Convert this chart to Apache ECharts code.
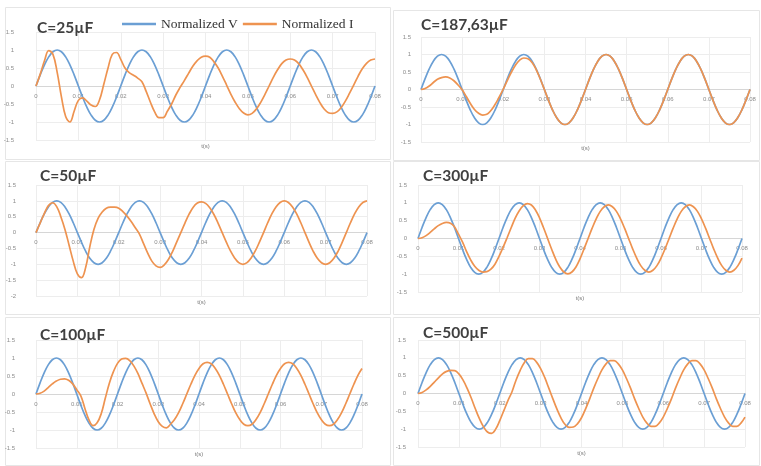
<!DOCTYPE html>
<html>
<head>
<meta charset="utf-8">
<script src="https://cdn.jsdelivr.net/npm/echarts@6/dist/echarts.min.js"></script>
<style>
  html, body { margin: 0; padding: 0; background: #ffffff; }
  #chart { width: 761px; height: 466px; }
</style>
</head>
<body>
<div id="chart"></div>
<script>
// Sample instants, seconds (1 ms step over four 50 Hz periods)
const times = [
  0, 0.001, 0.002, 0.003, 0.004, 0.005, 0.006, 0.007, 0.008, 0.009,
  0.010, 0.011, 0.012, 0.013, 0.014, 0.015, 0.016, 0.017, 0.018, 0.019,
  0.020, 0.021, 0.022, 0.023, 0.024, 0.025, 0.026, 0.027, 0.028, 0.029,
  0.030, 0.031, 0.032, 0.033, 0.034, 0.035, 0.036, 0.037, 0.038, 0.039,
  0.040, 0.041, 0.042, 0.043, 0.044, 0.045, 0.046, 0.047, 0.048, 0.049,
  0.050, 0.051, 0.052, 0.053, 0.054, 0.055, 0.056, 0.057, 0.058, 0.059,
  0.060, 0.061, 0.062, 0.063, 0.064, 0.065, 0.066, 0.067, 0.068, 0.069,
  0.070, 0.071, 0.072, 0.073, 0.074, 0.075, 0.076, 0.077, 0.078, 0.079,
  0.080
];

// Normalized supply voltage (same in every case)
const voltage = [
  0, 0.309, 0.588, 0.809, 0.951, 1, 0.951, 0.809, 0.588, 0.309,
  0, -0.309, -0.588, -0.809, -0.951, -1, -0.951, -0.809, -0.588, -0.309,
  0, 0.309, 0.588, 0.809, 0.951, 1, 0.951, 0.809, 0.588, 0.309,
  0, -0.309, -0.588, -0.809, -0.951, -1, -0.951, -0.809, -0.588, -0.309,
  0, 0.309, 0.588, 0.809, 0.951, 1, 0.951, 0.809, 0.588, 0.309,
  0, -0.309, -0.588, -0.809, -0.951, -1, -0.951, -0.809, -0.588, -0.309,
  0, 0.309, 0.588, 0.809, 0.951, 1, 0.951, 0.809, 0.588, 0.309,
  0, -0.309, -0.588, -0.809, -0.951, -1, -0.951, -0.809, -0.588, -0.309,
  0
];

// Normalized current for each capacitance
const current25 = [
  0, 0.33, 0.7, 0.98, 0.88, 0.38, -0.3, -0.85, -1.0, -0.7,
  -0.4, -0.33, -0.42, -0.53, -0.57, -0.38, 0.05, 0.5, 0.88, 0.93,
  0.74, 0.5, 0.37, 0.3, 0.22, 0.12, -0.15, -0.45, -0.72, -0.88,
  -0.88, -0.7, -0.5, -0.25, -0.04, 0.15, 0.35, 0.55, 0.7, 0.8,
  0.83, 0.8, 0.67, 0.5, 0.27, 0.02, -0.23, -0.45, -0.63, -0.75,
  -0.8, -0.76, -0.64, -0.46, -0.24, 0.0, 0.24, 0.45, 0.62, 0.72,
  0.75, 0.72, 0.62, 0.45, 0.24, 0.0, -0.24, -0.46, -0.64, -0.74,
  -0.76, -0.72, -0.6, -0.42, -0.2, 0.03, 0.27, 0.48, 0.63, 0.72,
  0.75
];
const current187 = [
  0, 0.03, 0.1, 0.2, 0.29, 0.34, 0.36, 0.33, 0.25, 0.13,
  -0.01, -0.2, -0.4, -0.57, -0.68, -0.73, -0.71, -0.6, -0.43, -0.22,
  0.01, 0.26, 0.5, 0.7, 0.84, 0.9, 0.88, 0.77, 0.57, 0.3,
  0, -0.309, -0.588, -0.809, -0.951, -1, -0.951, -0.809, -0.588, -0.309,
  0, 0.309, 0.588, 0.809, 0.951, 1, 0.951, 0.809, 0.588, 0.309,
  0, -0.309, -0.588, -0.809, -0.951, -1, -0.951, -0.809, -0.588, -0.309,
  0, 0.309, 0.588, 0.809, 0.951, 1, 0.951, 0.809, 0.588, 0.309,
  0, -0.309, -0.588, -0.809, -0.951, -1, -0.951, -0.809, -0.588, -0.309,
  0
];
const current50 = [
  0, 0.3, 0.6, 0.85, 0.94, 0.82, 0.5, 0.1, -0.4, -0.9,
  -1.3, -1.42, -1.1, -0.45, 0.1, 0.45, 0.65, 0.77, 0.8, 0.8,
  0.77, 0.66, 0.52, 0.35, 0.15, -0.05, -0.35, -0.65, -0.9, -1.05,
  -1.1, -1.02, -0.85, -0.6, -0.3, 0.0, 0.3, 0.58, 0.8, 0.93,
  0.97, 0.92, 0.78, 0.57, 0.3, 0.0, -0.3, -0.58, -0.8, -0.95,
  -1.0, -0.95, -0.8, -0.58, -0.3, 0.0, 0.31, 0.59, 0.81, 0.95,
  1.0, 0.95, 0.81, 0.59, 0.31, 0.0, -0.31, -0.59, -0.81, -0.95,
  -1.0, -0.95, -0.81, -0.59, -0.31, 0.0, 0.31, 0.59, 0.81, 0.95,
  1.0
];
const current300 = [
  0, 0.02, 0.08, 0.17, 0.27, 0.36, 0.42, 0.45, 0.43, 0.33,
  0.12, -0.1, -0.37, -0.6, -0.78, -0.89, -0.94, -0.93, -0.86, -0.72,
  -0.5, -0.25, 0.02, 0.3, 0.57, 0.78, 0.92, 0.98, 0.94, 0.8,
  0.58, 0.3, 0.0, -0.3, -0.58, -0.8, -0.94, -0.99, -0.94, -0.8,
  -0.57, -0.29, 0, 0.29, 0.55, 0.76, 0.89, 0.94, 0.89, 0.76,
  0.55, 0.29, 0, -0.29, -0.55, -0.76, -0.89, -0.94, -0.89, -0.76,
  -0.55, -0.29, 0, 0.29, 0.55, 0.76, 0.89, 0.94, 0.89, 0.76,
  0.55, 0.29, 0, -0.29, -0.55, -0.76, -0.89, -0.94, -0.89, -0.76,
  -0.55
];
const current100 = [
  0, 0.02, 0.08, 0.18, 0.28, 0.36, 0.41, 0.42, 0.38, 0.28,
  0.12, -0.05, -0.4, -0.72, -0.88, -0.8, -0.55, -0.12, 0.3, 0.62,
  0.85, 0.97, 0.99, 0.93, 0.78, 0.57, 0.3, 0.03, -0.27, -0.55,
  -0.77, -0.9, -0.94, -0.84, -0.71, -0.52, -0.27, 0, 0.27, 0.52,
  0.71, 0.84, 0.88, 0.84, 0.71, 0.52, 0.27, 0, -0.27, -0.52,
  -0.71, -0.84, -0.88, -0.84, -0.71, -0.52, -0.27, 0, 0.27, 0.52,
  0.71, 0.84, 0.88, 0.84, 0.71, 0.52, 0.27, 0, -0.27, -0.52,
  -0.71, -0.84, -0.88, -0.84, -0.71, -0.52, -0.27, 0, 0.27, 0.52,
  0.71
];
const current500 = [
  0, 0.03, 0.1, 0.2, 0.32, 0.44, 0.55, 0.62, 0.65, 0.64,
  0.55, 0.38, 0.15, -0.12, -0.42, -0.7, -0.93, -1.08, -1.12, -1.0,
  -0.76, -0.48, -0.2, 0.05, 0.38, 0.65, 0.86, 0.98, 0.98, 0.88,
  0.7, 0.45, 0.15, -0.15, -0.44, -0.69, -0.87, -0.95, -0.94, -0.85,
  -0.68, -0.43, -0.15, 0.15, 0.42, 0.66, 0.83, 0.92, 0.92, 0.83,
  0.66, 0.42, 0.15, -0.15, -0.42, -0.66, -0.83, -0.92, -0.92, -0.83,
  -0.66, -0.42, -0.15, 0.15, 0.42, 0.66, 0.83, 0.92, 0.92, 0.83,
  0.66, 0.42, 0.15, -0.15, -0.42, -0.66, -0.83, -0.92, -0.92, -0.83,
  -0.66
];

const panelTitles = ['C=25µF', 'C=187,63µF', 'C=50µF', 'C=300µF', 'C=100µF', 'C=500µF'];
const panelCurrents = [current25, current187, current50, current300, current100, current500];
const xTickLabels = ['0', '0.01', '0.02', '0.03', '0.04', '0.05', '0.06', '0.07', '0.08'];
const yTickLabels = ['-2', '-1.5', '-1', '-0.5', '0', '0.5', '1', '1.5'];
const xAxisTitle = 't(s)';
const seriesNames = ['Normalized V', 'Normalized I'];

// Panel geometry: plot rectangle, y range, label gap, title anchor, frame
const layout = [
  { left: 36,  top: 32,  width: 339, height: 108, yMin: -1.5, gap: 22, tx: 37,  ty: 20,  frame: [5, 7, 385, 152] },
  { left: 421, top: 37,  width: 329, height: 105, yMin: -1.5, gap: 10, tx: 421, ty: 17,  frame: [393, 10, 366, 150] },
  { left: 36,  top: 185, width: 331, height: 111, yMin: -2,   gap: 20, tx: 40,  ty: 168, frame: [5, 161, 385, 153] },
  { left: 418, top: 185, width: 324, height: 107, yMin: -1.5, gap: 11, tx: 423, ty: 168, frame: [393, 161, 366, 153] },
  { left: 36,  top: 340, width: 326, height: 108, yMin: -1.5, gap: 21, tx: 40,  ty: 327, frame: [5, 317, 385, 148] },
  { left: 418, top: 340, width: 327, height: 107, yMin: -1.5, gap: 12, tx: 423, ty: 325, frame: [393, 317, 366, 148] }
];
const yMax = 1.5;

const blue = '#6b9fd4';
const orange = '#ee9350';
const tickFont = { fontSize: 6, color: '#8c8c8c', fontFamily: 'Liberation Sans, Arial, sans-serif' };

const grids = [], xAxes = [], yAxes = [], series = [], titles = [], graphics = [];

layout.forEach((g, i) => {
  // lift the horizontal axis (line and labels) from the plot bottom up to y = 0
  const zeroLift = g.height * (0 - g.yMin) / (yMax - g.yMin);
  grids.push({ left: g.left, top: g.top, width: g.width, height: g.height, containLabel: false });
  xAxes.push({
    type: 'value', gridIndex: i, min: 0, max: 0.08, interval: 0.01,
    position: 'bottom', offset: -zeroLift,
    axisLine: { show: true, onZero: false, lineStyle: { color: '#d6d6d6', width: 1 } },
    axisTick: { show: false },
    axisLabel: Object.assign({ margin: 7, formatter: v => xTickLabels[Math.round(v / 0.01)] }, tickFont),
    splitLine: { show: true, lineStyle: { color: '#ededed', width: 1 } }
  });
  yAxes.push({
    type: 'value', gridIndex: i, min: g.yMin, max: yMax, interval: 0.5,
    axisLine: { show: false, onZero: false }, axisTick: { show: false },
    axisLabel: Object.assign({ margin: g.gap, formatter: v => yTickLabels[Math.round((v + 2) / 0.5)] }, tickFont),
    splitLine: { show: true, lineStyle: { color: '#ededed', width: 1 } }
  });
  series.push({
    name: seriesNames[0], type: 'line', xAxisIndex: i, yAxisIndex: i,
    data: times.map((t, k) => [t, voltage[k]]),
    showSymbol: false, smooth: 0.4, lineStyle: { color: blue, width: 1.7 }, itemStyle: { color: blue },
    silent: true, animation: false
  });
  series.push({
    name: seriesNames[1], type: 'line', xAxisIndex: i, yAxisIndex: i,
    data: times.map((t, k) => [t, panelCurrents[i][k]]),
    showSymbol: false, smooth: 0.4, lineStyle: { color: orange, width: 1.7 }, itemStyle: { color: orange },
    silent: true, animation: false
  });
  titles.push({
    text: panelTitles[i], left: g.tx, top: g.ty, padding: 0,
    textStyle: { fontFamily: 'Lato, Open Sans, sans-serif', fontWeight: 'bold', fontSize: 15.5, color: '#404040' }
  });
  graphics.push({
    type: 'rect', silent: true, z: -10,
    shape: { x: g.frame[0] + 0.5, y: g.frame[1] + 0.5, width: g.frame[2], height: g.frame[3] },
    style: { fill: null, stroke: '#e6e6e6', lineWidth: 1 }
  });
  graphics.push({
    type: 'text', silent: true,
    x: g.left + g.width / 2, y: g.top + g.height + 6,
    style: { text: xAxisTitle, align: 'center', verticalAlign: 'middle', fontSize: 6, fill: '#7a7a7a', fontFamily: 'Liberation Sans, Arial, sans-serif' }
  });
});

const chart = echarts.init(document.getElementById('chart'), null, { renderer: 'canvas' });
chart.setOption({
  backgroundColor: '#ffffff',
  animation: false,
  title: titles,
  legend: {
    data: seriesNames, left: 122, top: 17, padding: 0,
    icon: 'rect', itemWidth: 34, itemHeight: 2.5, itemGap: 5,
    textStyle: { fontFamily: 'Liberation Serif, Times New Roman, serif', fontSize: 13.5, color: '#333333' },
    selectedMode: false
  },
  grid: grids,
  xAxis: xAxes,
  yAxis: yAxes,
  series: series,
  graphic: graphics
});
</script>
</body>
</html>
